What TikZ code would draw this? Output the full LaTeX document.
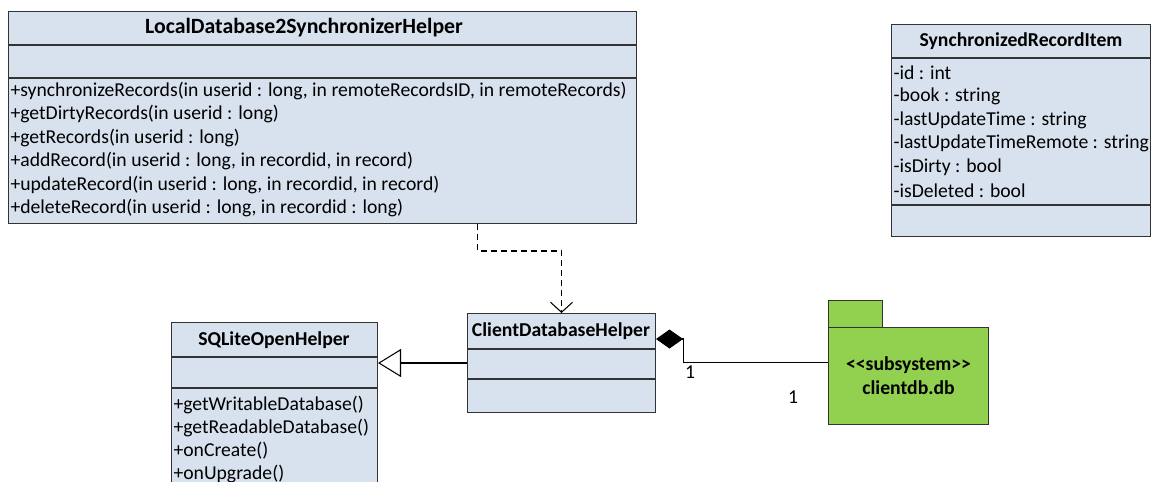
\documentclass[tikz,border=0pt]{standalone}
\usepackage{fontspec}
\setmainfont{Carlito}
\usetikzlibrary{arrows.meta}
\definecolor{clsfill}{RGB}{216,225,238}
\definecolor{pkgfill}{RGB}{146,208,80}
\begin{document}
\begin{tikzpicture}[x=0.02cm, y=-0.02cm, line width=0.6pt,
        every node/.style = {font=\fontsize{11.2}{13}\selectfont},
        cls/.style = {draw=black!80, fill=clsfill, anchor=north west, inner sep=0pt},
        pkg/.style = {draw=black!80, fill=pkgfill, anchor=north west, inner sep=0pt},
        sep/.style = {draw=black!80},
        title/.style = {font=\fontsize{11.2}{13.5}\selectfont\bfseries},
        member/.style = {anchor=west, inner sep=0pt},
        dep/.style = {dash pattern=on 1.2mm off 0.8mm, -{Straight Barb[length=2mm,width=4.4mm]}},
        gen/.style = {-{Triangle[open,fill=white,length=4.6mm,width=5.6mm]}},
        comp/.style = {{Diamond[length=5.4mm,width=3.8mm]}-}]
    \useasboundingbox (0,0) rectangle (1151,482);

    % classes
    \node[cls, minimum width=12.56cm, minimum height=4.24cm] at (8,11) (ldh) {};
    \node[cls, minimum width=5.18cm, minimum height=4.24cm] at (891,24) (sri) {};
    \node[cls, minimum width=4.12cm, minimum height=3.6cm] at (171,322) (sql) {};
    \node[cls, minimum width=3.76cm, minimum height=1.98cm] at (467,313) (cdh) {};
    \draw[sep] (8,45) -- (636,45) (8,78) -- (636,78);
    \draw[sep] (891,58) -- (1150,58) (891,205) -- (1150,205);
    \draw[sep] (171,357) -- (377,357) (171,388) -- (377,388);
    \draw[sep] (467,349) -- (655,349) (467,379) -- (655,379);

    \node[title, font=\fontsize{12.4}{14}\selectfont\bfseries] at (304,28) (ldhT) {LocalDatabase2SynchronizerHelper};
    \node[title] at (1021,41) (sriT) {SynchronizedRecordItem};
    \node[title] at (274,340) (sqlT) {SQLiteOpenHelper};
    \node[title] at (561,331) (cdhT) {ClientDatabaseHelper};

    \foreach \m [count=\i] in {{+synchronizeRecords(in userid : long, in remoteRecordsID, in remoteRecords)},
            {+getDirtyRecords(in userid : long)}, {+getRecords(in userid : long)},
            {+addRecord(in userid : long, in recordid, in record)},
            {+updateRecord(in userid : long, in recordid, in record)},
            {+deleteRecord(in userid : long, in recordid : long)}}
        \node[member] at (10,67.5+23.4*\i) (ldhM\i) {\m};
    \foreach \m [count=\i] in {-id : int, -book : string, -lastUpdateTime : string,
            -lastUpdateTimeRemote : string, -isDirty : bool, -isDeleted : bool}
        \node[member] at (893,49.5+23.5*\i) (sriA\i) {\m};
    \foreach \m [count=\i] in {+getWritableDatabase(), +getReadableDatabase(), +onCreate(), +onUpgrade()}
        \node[member] at (173,382+23*\i) (sqlM\i) {\m};

    % subsystem package
    \node[pkg, minimum width=1.08cm, minimum height=0.54cm] at (828,300) (tab) {};
    \node[pkg, minimum width=3.2cm, minimum height=1.94cm] at (828,327) (db) {};
    \node[title, align=center] at (db.center) (dbT) {<\kern0pt<subsystem>\kern0pt>\\clientdb.db};

    % relations
    \draw[dep] ([xshift=9.4cm]ldh.south west) -- ++(0,27) -| (cdh.north);
    \draw[gen] (cdh.west) -- (cdh.west -| sql.east);
    \draw[comp] ([yshift=0.48cm]cdh.east) -- ++(27,0) |- ([yshift=0.27cm]db.west);
    \node at (690,372) (m1) {1};
    \node at (793,397) (m2) {1};
\end{tikzpicture}
\end{document}
